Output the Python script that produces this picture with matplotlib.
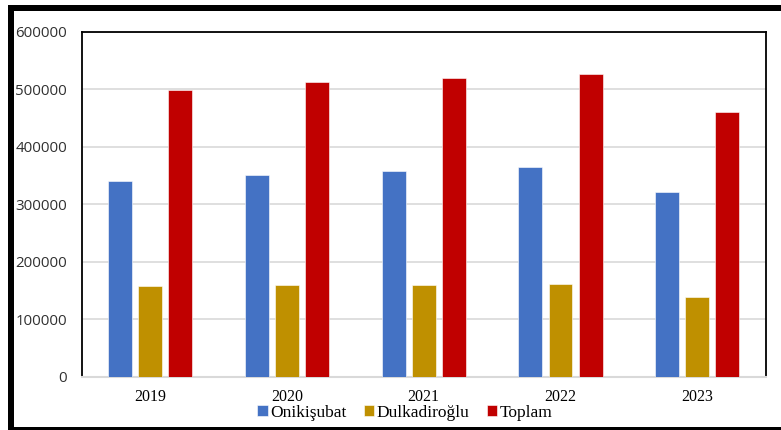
import numpy as np
import matplotlib.pyplot as plt
from matplotlib.patches import Rectangle

years = ["2019", "2020", "2021", "2022", "2023"]
onikisubat = [341000, 351000, 358000, 365000, 322000]
dulkadiroglu = [157000, 160000, 160000, 162000, 139000]
toplam = [499000, 513000, 520000, 527000, 461000]

series = [
    ("Onikişubat", onikisubat, "#4472C4"),
    ("Dulkadiroğlu", dulkadiroglu, "#BF9000"),
    ("Toplam", toplam, "#C00000"),
]

W, H = 781, 430
fig = plt.figure(figsize=(W / 100, H / 100), dpi=100)
ax = fig.add_axes([81.7 / W, 1 - 376.7 / H, 684 / W, 345 / H])

x = np.arange(len(years))
width = 0.175
offsets = [-0.22, 0.0, 0.22]
for (name, vals, color), off in zip(series, offsets):
    ax.bar(x + off, vals, width, color=color, label=name,
           edgecolor="white", linewidth=0.4, zorder=3)

ax.set_xlim(-0.5, len(years) - 0.5)
ax.set_ylim(0, 600000)
ax.set_yticks(np.arange(0, 600001, 100000))
ax.set_yticklabels([str(v) for v in range(0, 600001, 100000)],
                   fontfamily="Open Sans", fontsize=10.8, color="#303030")
ax.set_xticks(x)
ax.set_xticklabels(years, fontfamily="Liberation Serif", fontsize=11.5)
ax.tick_params(axis="y", length=0, pad=10.5)
ax.tick_params(axis="x", length=0, pad=8.5)
ax.yaxis.grid(True, color="#d9d9d9", linewidth=1.2, zorder=0)

for side in ("left", "top", "right"):
    ax.spines[side].set_color("black")
    ax.spines[side].set_linewidth(1.3)
ax.spines["bottom"].set_color("#d9d9d9")
ax.spines["bottom"].set_linewidth(1.5)

fig.legend(loc="center", bbox_to_anchor=(405 / W, 1 - 413 / H), ncol=3,
           frameon=False, prop={"family": "Liberation Serif", "size": 12.5},
           handlelength=0.6, handleheight=0.6, handletextpad=0.15,
           columnspacing=1.0, borderpad=0)

# heavy black frame around the figure (open on the right)
def band(x0, y0, x1, y1):
    fig.add_artist(Rectangle((x0 / W, 1 - y1 / H), (x1 - x0) / W, (y1 - y0) / H,
                             transform=fig.transFigure, color="black", lw=0))

band(8, 5, W, 11)
band(8, 5, 14, H)
band(8, 427, W, H)

fig.savefig("out.png", dpi=100)
